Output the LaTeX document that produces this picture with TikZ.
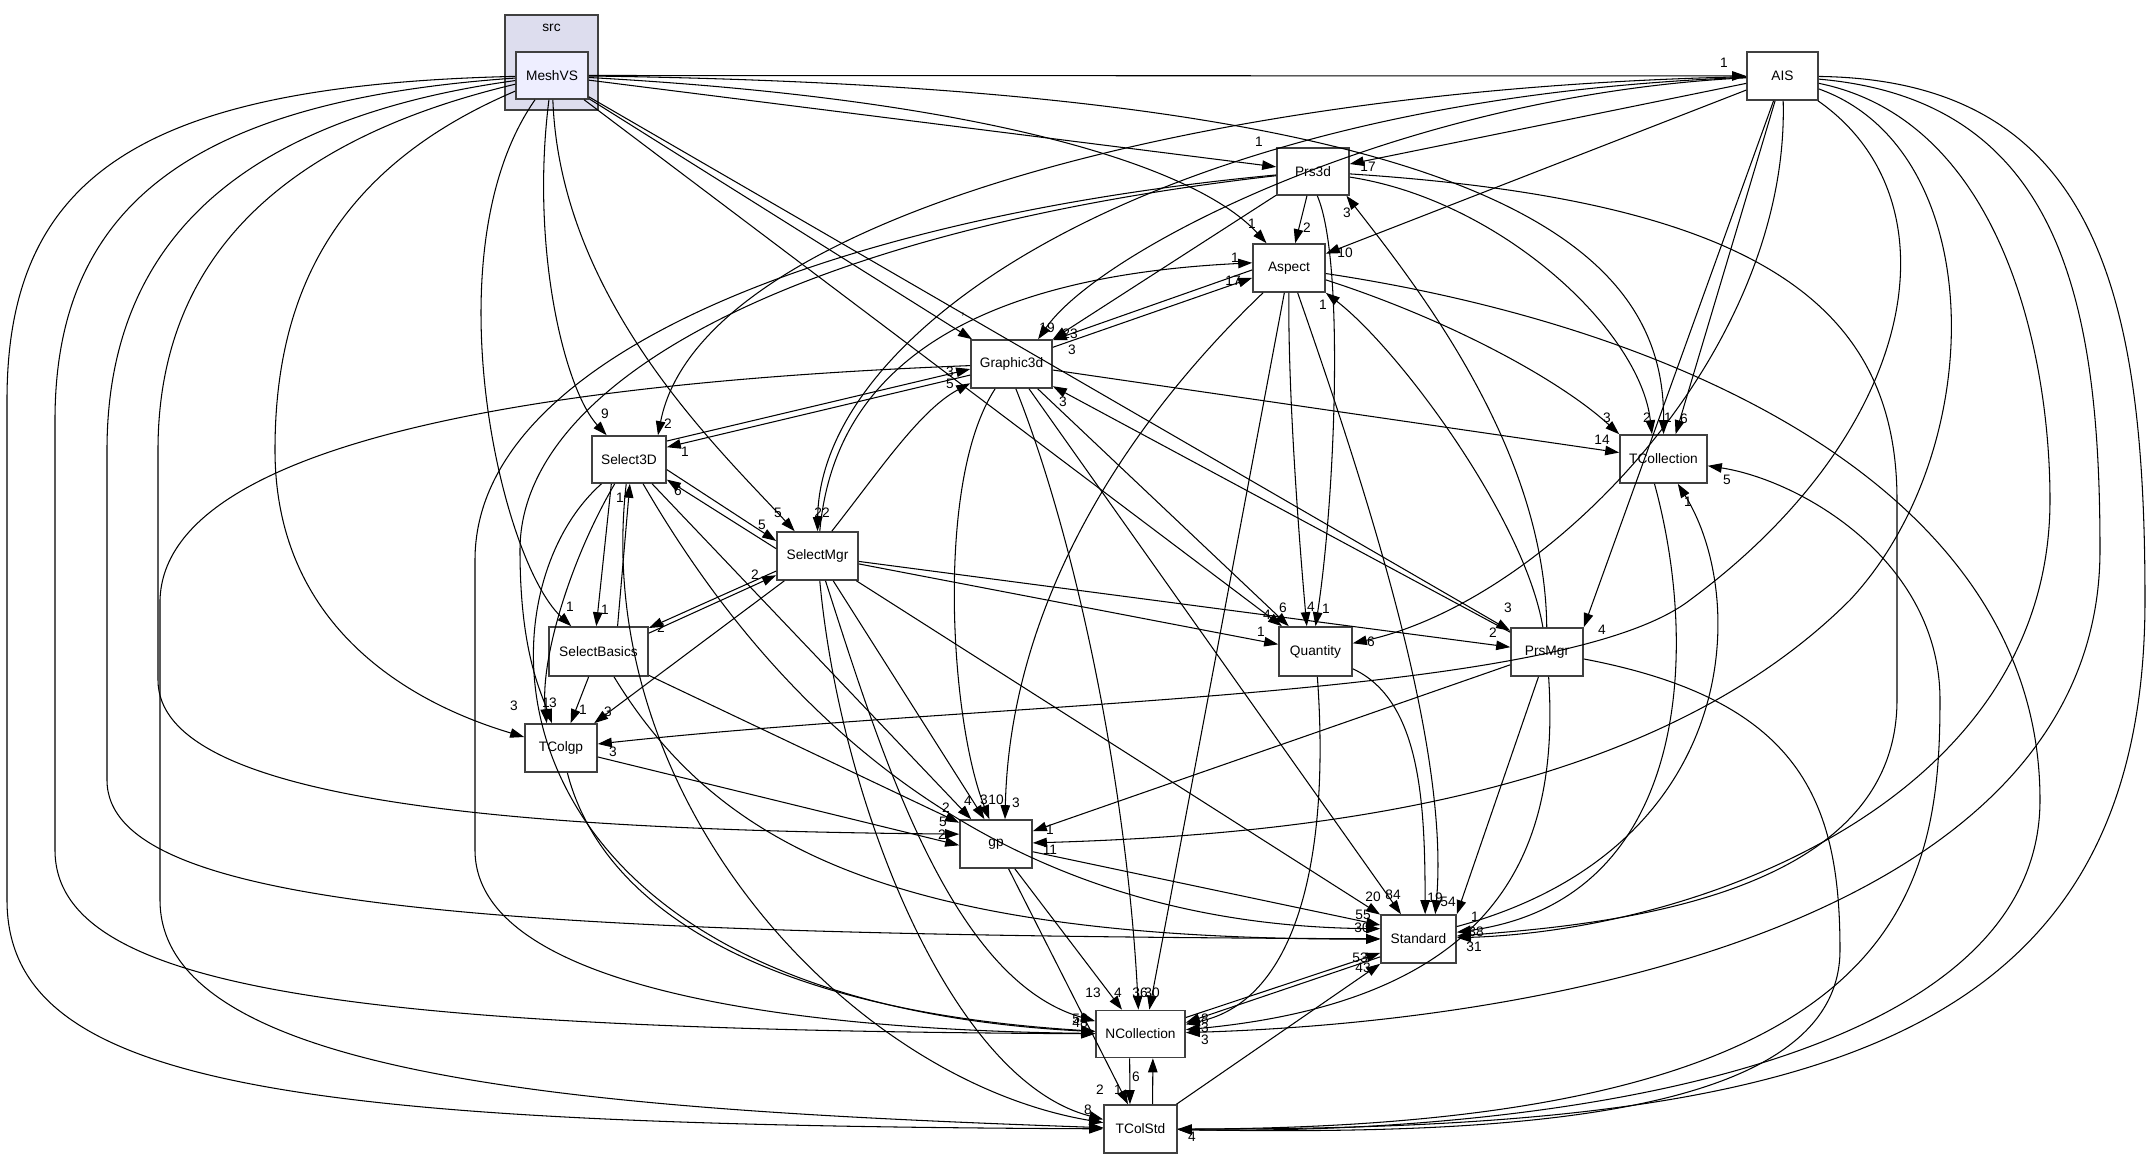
\documentclass[tikz,border=0pt]{standalone}
\usepackage{fontspec}
\setmainfont{Liberation Sans}
\usetikzlibrary{arrows.meta}
\definecolor{clfill}{HTML}{DDDDEE}
\definecolor{msfill}{HTML}{EEEEFF}
\definecolor{bd}{HTML}{404040}
\newcommand{\nfs}{\fontsize{3.9}{4.6}\selectfont}
\begin{document}
\begin{tikzpicture}[x=0.01cm,y=-0.01cm,
  box/.style={draw=bd, line width=0.45pt, fill=white, inner sep=0pt, minimum height=0.48cm, font=\nfs},
  e/.style={line width=0.3pt, -{Triangle[length=0.14cm,width=0.095cm]}},
  lb/.style={font=\nfs, inner sep=0pt}]
\useasboundingbox[fill=white] (0,0) rectangle (2156,1161);
% cluster and nodes
\node[box, fill=clfill, minimum width=0.93cm, minimum height=0.95cm] (src) at (551.5,62.5) {};
\node[lb] (srclbl) at (551.5,28) {src};
\node[box, fill=msfill, minimum width=0.72cm, minimum height=0.47cm] (MeshVS) at (552,75.5) {MeshVS};
\node[box, minimum width=0.71cm] (AIS) at (1782.5,76) {AIS};
\node[box, minimum width=0.72cm, minimum height=0.47cm] (Prs3d) at (1313,171.5) {Prs3d};
\node[box, minimum width=0.72cm] (Aspect) at (1289,268) {Aspect};
\node[box, minimum width=0.81cm] (Graphic3d) at (1011.5,364) {Graphic3d};
\node[box, minimum width=0.74cm, minimum height=0.47cm] (Select3D) at (629,459.5) {Select3D};
\node[box, minimum width=0.87cm] (TCollection) at (1663.5,459) {TCollection};
\node[box, minimum width=0.81cm] (SelectMgr) at (817.5,556) {SelectMgr};
\node[box, minimum width=0.99cm, minimum height=0.49cm] (SelectBasics) at (598.5,651.5) {SelectBasics};
\node[box, minimum width=0.73cm, minimum height=0.49cm] (Quantity) at (1315.5,651.5) {Quantity};
\node[box, minimum width=0.72cm] (PrsMgr) at (1547,652) {PrsMgr};
\node[box, minimum width=0.72cm] (TColgp) at (561,748) {TColgp};
\node[box, minimum width=0.72cm] (gp) at (996,844) {gp};
\node[box, minimum width=0.75cm] (Standard) at (1418.5,939) {Standard};
\node[box, minimum width=0.89cm, minimum height=0.47cm] (NCollection) at (1140.5,1034) {NCollection};
\node[box, minimum width=0.73cm] (TColStd) at (1140.5,1129) {TColStd};

% MeshVS
\draw[e] (MeshVS) -- (AIS);
\draw[e] (MeshVS) -- (Prs3d);
\draw[e] (MeshVS) .. controls (1000,100) and (1200,170) .. (Aspect);
\draw[e] (MeshVS) .. controls (1500,88) and (1665,250) .. (TCollection.north);
\draw[e] (MeshVS) -- (Graphic3d);
\draw[e] (MeshVS) -- (PrsMgr);
\draw[e] (MeshVS) -- (Quantity);
\draw[e] (MeshVS) .. controls (530,250) and (565,390) .. (Select3D);
\draw[e] (MeshVS) .. controls (430,250) and (500,560) .. (SelectBasics);
\draw[e] (MeshVS) .. controls (560,300) and (720,450) .. (SelectMgr);
\draw[e] (MeshVS) .. controls (330,170) and (275,300) .. (275,450) .. controls (275,620) and (400,700) .. (TColgp);
\draw[e] (MeshVS) .. controls (280,140) and (158,260) .. (158,450) -- (158,680) .. controls (158,800) and (500,830) .. (gp.165);
\draw[e] (MeshVS) .. controls (230,120) and (107,250) .. (107,450) -- (107,780) .. controls (107,910) and (500,935) .. (Standard);
\draw[e] (MeshVS) .. controls (200,100) and (55,200) .. (55,420) -- (55,850) .. controls (55,990) and (350,1030) .. (NCollection);
\draw[e] (MeshVS) .. controls (150,85) and (7,170) .. (7,400) -- (7,900) .. controls (7,1090) and (300,1125) .. (TColStd);
% AIS
\draw[e] (AIS) -- (Prs3d);
\draw[e] (AIS) -- (Aspect);
\draw[e] (AIS) .. controls (1400,95) and (1100,250) .. (Graphic3d.43);
\draw[e] (AIS) .. controls (1200,88) and (700,220) .. (Select3D.40);
\draw[e] (AIS) .. controls (1150,100) and (820,330) .. (SelectMgr.north);
\draw[e] (AIS) -- (TCollection.64);
\draw[e] (AIS) .. controls (1790,350) and (1550,600) .. (Quantity);
\draw[e] (AIS) -- (PrsMgr.north east);
\draw[e] (AIS) .. controls (1960,200) and (1920,430) .. (1690,600) .. controls (1560,700) and (1000,700) .. (TColgp);
\draw[e] (AIS) .. controls (1990,150) and (1990,450) .. (1850,600) .. controls (1650,800) and (1300,835) .. (gp);
\draw[e] (AIS) .. controls (2000,120) and (2050,350) .. (2050,500) .. controls (2050,800) and (1700,930) .. (Standard);
\draw[e] (AIS) .. controls (2060,100) and (2100,300) .. (2100,550) .. controls (2100,900) and (1600,1020) .. (NCollection);
\draw[e] (AIS) .. controls (2100,80) and (2145,300) .. (2145,600) .. controls (2145,1050) and (1800,1130) .. (TColStd);
% Prs3d
\draw[e] (Prs3d) -- (Aspect);
\draw[e] (Prs3d) -- (Graphic3d.north east);
\draw[e] (Prs3d.-80) .. controls (1345,260) and (1335,500) .. (Quantity.north);
\draw[e] (Prs3d) .. controls (1500,200) and (1640,330) .. (TCollection.115);
\draw[e] (Prs3d) .. controls (1750,200) and (1897,300) .. (1897,500) -- (1897,700) .. controls (1897,900) and (1600,925) .. (Standard);
\draw[e] (Prs3d) .. controls (800,230) and (520,380) .. (520,550) .. controls (520,650) and (540,690) .. (TColgp.110);
\draw[e] (Prs3d) .. controls (850,215) and (475,350) .. (475,560) -- (475,850) .. controls (475,990) and (800,1030) .. (NCollection);
% Aspect
\draw[e] (Aspect.183) -- (Graphic3d.30);
\draw[e] (Graphic3d.22) -- (Aspect.195);
\draw[e] (Aspect) .. controls (1288,400) and (1300,550) .. (Quantity.109);
\draw[e] (Aspect) .. controls (1130,420) and (1010,600) .. (gp.70);
\draw[e] (Aspect) .. controls (1370,500) and (1450,750) .. (Standard.56);
\draw[e] (Aspect) -- (NCollection.70);
\draw[e] (Aspect) .. controls (1450,320) and (1560,380) .. (TCollection.north west);
\draw[e] (Aspect) .. controls (1700,330) and (2040,500) .. (2040,800) .. controls (2040,1080) and (1500,1135) .. (TColStd);
% Graphic3d
\draw[e] (Graphic3d) -- (TCollection);
\draw[e] (Graphic3d.195) -- (Select3D.18);
\draw[e] (Select3D.26) -- (Graphic3d.187);
\draw[e] (SelectMgr.60) .. controls (880,470) and (920,410) .. (Graphic3d.205);
\draw[e] (Graphic3d) .. controls (935,480) and (950,720) .. (gp.105);
\draw[e] (Graphic3d.-80) .. controls (1080,550) and (1128,800) .. (NCollection.95);
\draw[e] (Graphic3d) -- (Standard);
\draw[e] (Graphic3d) -- (Quantity);
\draw[e] (Graphic3d) .. controls (600,380) and (165,430) .. (160,600) -- (160,900) .. controls (160,1080) and (600,1110) .. (TColStd);
% PrsMgr
\draw[e] (PrsMgr) .. controls (1545,450) and (1420,290) .. (Prs3d.-36);
\draw[e] (PrsMgr) .. controls (1525,520) and (1400,350) .. (Aspect.-34);
\draw[e] (PrsMgr) -- (Graphic3d);
\draw[e] (PrsMgr) -- (gp);
\draw[e] (PrsMgr) -- (Standard.north east);
\draw[e] (PrsMgr) .. controls (1560,850) and (1500,1000) .. (NCollection);
\draw[e] (PrsMgr) .. controls (1800,700) and (1840,800) .. (1840,950) .. controls (1840,1120) and (1500,1135) .. (TColStd);
% SelectMgr
\draw[e] (Select3D.-15) -- (SelectMgr.160);
\draw[e] (SelectMgr.170) -- (Select3D.-28);
\draw[e] (SelectBasics.20) -- (SelectMgr.205);
\draw[e] (SelectMgr.200) -- (SelectBasics.25);
\draw[e] (SelectMgr) .. controls (830,420) and (900,280) .. (Aspect.172);
\draw[e] (SelectMgr) -- (Quantity);
\draw[e] (SelectMgr) -- (PrsMgr);
\draw[e] (SelectMgr) -- (TColgp);
\draw[e] (SelectMgr) -- (gp.115);
\draw[e] (SelectMgr) -- (Standard);
\draw[e] (SelectMgr) .. controls (880,750) and (950,980) .. (NCollection);
\draw[e] (SelectMgr) .. controls (840,800) and (950,1080) .. (TColStd);
% Select3D
\draw[e] (Select3D.-126) -- (SelectBasics.95);
\draw[e] (SelectBasics.53) -- (Select3D.-88);
\draw[e] (Select3D) .. controls (570,560) and (540,660) .. (TColgp.120);
\draw[e] (Select3D) -- (gp.135);
\draw[e] (Select3D) .. controls (780,720) and (1000,925) .. (Standard.165);
\draw[e] (Select3D) .. controls (470,600) and (480,1000) .. (NCollection);
\draw[e] (Select3D) .. controls (590,800) and (850,1080) .. (TColStd);
% SelectBasics
\draw[e] (SelectBasics) -- (TColgp);
\draw[e] (SelectBasics) -- (gp.150);
\draw[e] (SelectBasics) .. controls (720,850) and (900,940) .. (Standard);
% TColgp, gp
\draw[e] (TColgp) -- (gp.182);
\draw[e] (TColgp) .. controls (600,900) and (750,1010) .. (NCollection);
\draw[e] (gp) -- (Standard.160);
\draw[e] (gp) -- (NCollection);
\draw[e] (gp) -- (TColStd);
% Quantity
\draw[e] (Quantity) .. controls (1420,700) and (1425,800) .. (Standard.75);
\draw[e] (Quantity) .. controls (1330,850) and (1300,1000) .. (NCollection);
% Standard / collections
\draw[e] (NCollection.20) -- (Standard.200);
\draw[e] (Standard.205) -- (NCollection.14);
\draw[e] (TColStd) -- (Standard.south west);
\draw[e] (TCollection.-110) .. controls (1700,650) and (1690,900) .. (Standard.10);
\draw[e] (Standard.18) .. controls (1740,850) and (1750,600) .. (TCollection.-60);
\draw[e] (NCollection.-114.5) -- (TColStd.113.6);
\draw[e] (TColStd.64.4) -- (NCollection.-63.4);
\draw[e] (TColStd) .. controls (1900,1130) and (1940,900) .. (1940,700) .. controls (1940,560) and (1800,480) .. (TCollection);

% labels
\node[lb] (a1) at (1724,63) {1};
\node[lb] (a2) at (1259,142) {1};
\node[lb] (a3) at (1252,224) {1};
\node[lb] (a4) at (1668,418) {1};
\node[lb] (a5) at (963,318) {'};
\node[lb] (a6) at (1508,608) {3};
\node[lb] (a7) at (1267,615) {4};
\node[lb] (a8) at (605,414) {9};
\node[lb] (a9) at (570,607) {1};
\node[lb] (a10) at (778,513) {5};
\node[lb] (a11) at (514,706) {3};
\node[lb] (a12) at (943,822) {5};
\node[lb] (a13) at (1362,928) {30};
\node[lb] (a14) at (1080,1019) {58};
\node[lb] (a15) at (1088,1110) {8};
\node[lb] (b1) at (1368,167) {17};
\node[lb] (b2) at (1345,253) {10};
\node[lb] (b3) at (1047,328) {19};
\node[lb] (b4) at (668,424) {2};
\node[lb] (b5) at (822,513) {22};
\node[lb] (b6) at (1684,419) {6};
\node[lb] (b7) at (1371,642) {6};
\node[lb] (b8) at (1602,630) {4};
\node[lb] (b9) at (613,752) {3};
\node[lb] (b10) at (1050,850) {11};
\node[lb] (b11) at (1474,947) {31};
\node[lb] (b12) at (1205,1040) {3};
\node[lb] (b13) at (1192,1137) {4};
\node[lb] (c1) at (1307,228) {2};
\node[lb] (c2) at (1070,334) {23};
\node[lb] (c3) at (1326,609) {1};
\node[lb] (c4) at (1647,418) {2};
\node[lb] (c5) at (1476,932) {38};
\node[lb] (c6) at (553,703) {3};
\node[lb] (c7) at (1080,1023) {48};
\node[lb] (d1) at (1072,350) {3};
\node[lb] (d2) at (1233,281) {17};
\node[lb] (d3) at (1311,607) {4};
\node[lb] (d4) at (1016,803) {3};
\node[lb] (d5) at (1448,902) {54};
\node[lb] (d6) at (1152,993) {30};
\node[lb] (d7) at (1607,418) {3};
\node[lb] (g1) at (1602,440) {14};
\node[lb] (g2) at (685,452) {1};
\node[lb] (g3) at (950,372) {3};
\node[lb] (g4) at (950,384) {5};
\node[lb] (g5) at (996,800) {10};
\node[lb] (g6) at (1140,993) {36};
\node[lb] (g7) at (1393,895) {84};
\node[lb] (g8) at (1283,608) {6};
\node[lb] (g9) at (1100,1090) {2};
\node[lb] (p1) at (1347,213) {3};
\node[lb] (p2) at (1323,305) {1};
\node[lb] (p3) at (1063,402) {3};
\node[lb] (p4) at (1050,830) {1};
\node[lb] (p5) at (1475,917) {1};
\node[lb] (p6) at (1205,1028) {3};
\node[lb] (s1) at (762,525) {5};
\node[lb] (s2) at (678,491) {6};
\node[lb] (s3) at (755,575) {2};
\node[lb] (s4) at (661,628) {2};
\node[lb] (s5) at (1235,258) {1};
\node[lb] (s6) at (1261,632) {1};
\node[lb] (s7) at (1493,633) {2};
\node[lb] (s8) at (608,712) {3};
\node[lb] (s9) at (984,800) {3};
\node[lb] (s10) at (1373,897) {20};
\node[lb] (s11) at (1093,993) {13};
\node[lb] (t1) at (605,610) {1};
\node[lb] (t2) at (620,498) {1};
\node[lb] (t3) at (546,703) {1};
\node[lb] (t4) at (968,801) {4};
\node[lb] (t5) at (583,710) {1};
\node[lb] (t6) at (946,808) {2};
\node[lb] (t7) at (942,835) {2};
\node[lb] (t8) at (1363,915) {55};
\node[lb] (t9) at (1118,993) {4};
\node[lb] (q1) at (1435,898) {19};
\node[lb] (q2) at (1360,958) {53};
\node[lb] (q3) at (1205,1019) {8};
\node[lb] (q4) at (1363,968) {43};
\node[lb] (q5) at (1688,502) {1};
\node[lb] (q6) at (1118,1090) {1};
\node[lb] (q7) at (1136,1077) {6};
\node[lb] (q8) at (1727,480) {5};
\end{tikzpicture}
\end{document}
